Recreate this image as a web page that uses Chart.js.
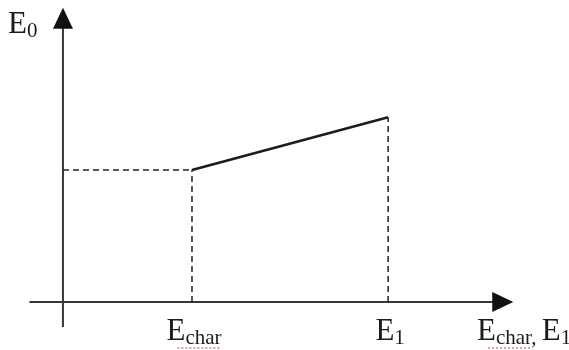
<!DOCTYPE html>
<html>
<head>
<meta charset="utf-8">
<script src="https://cdn.jsdelivr.net/npm/chart.js@4"></script>
<style>
html, body { margin: 0; padding: 0; background: #fff; }
</style>
</head>
<body>
<canvas id="chart" width="569" height="350"></canvas>
<script>
// values (origin = where the axes cross)
const eValues = [1, 2.52];        // E_char, E_1 along the x axis
const e0Values = [1, 1.4];        // E_0 at those two points
const tickMain = ["E", "E"];
const tickSub = ["char", "1"];
const yTitle = [["E", false], ["0", true]];
const xTitle = [["E", false], ["char, ", true], ["E", false], ["1", true]];

const ink = "#1c1c1c";
const bigFont = "31px 'Liberation Serif', 'Times New Roman', serif";
const subFont = "21px 'Liberation Serif', 'Times New Roman', serif";

function pt(x, y) { return { x: x, y: y }; }

// draws text with subscript parts, returns width
function richText(ctx, parts, x, y, align, squiggle) {
  let w = 0;
  parts.forEach(p => {
    ctx.font = p[1] ? subFont : bigFont;
    w += ctx.measureText(p[0]).width;
  });
  let cx = align === "center" ? x - w / 2 : x;
  ctx.textBaseline = "alphabetic";
  ctx.textAlign = "left";
  parts.forEach(p => {
    ctx.font = p[1] ? subFont : bigFont;
    const pw = ctx.measureText(p[0]).width;
    ctx.fillStyle = ink;
    ctx.fillText(p[0], cx, y + (p[1] ? 4 : 0));
    if (p[1] && squiggle && /[a-z]/.test(p[0])) {
      const tw = ctx.measureText(p[0].replace(/[, ]+$/, "")).width;
      ctx.save();
      ctx.strokeStyle = "#e03030";
      ctx.lineWidth = 1;
      ctx.setLineDash([2, 2]);
      ctx.beginPath();
      ctx.moveTo(cx - 8, y + 8);
      ctx.lineTo(cx + tw, y + 8);
      ctx.stroke();
      ctx.restore();
    }
    cx += pw;
  });
  return w;
}

const axesPlugin = {
  id: "axes",
  beforeDatasetsDraw(chart) {
    const ctx = chart.ctx;
    const xs = chart.scales.x, ys = chart.scales.y;
    const ox = xs.getPixelForValue(0), oy = ys.getPixelForValue(0);
    const xEnd = xs.getPixelForValue(3.49), yEnd = ys.getPixelForValue(2.23);
    ctx.save();
    ctx.strokeStyle = "#383838";
    ctx.fillStyle = "#111";
    ctx.lineWidth = 2;
    ctx.beginPath();
    ctx.moveTo(xs.getPixelForValue(-0.26), oy);
    ctx.lineTo(xEnd - 18, oy);
    ctx.moveTo(ox, ys.getPixelForValue(-0.19));
    ctx.lineTo(ox, yEnd + 18);
    ctx.stroke();
    // arrow heads
    ctx.beginPath();
    ctx.moveTo(xEnd, oy);
    ctx.lineTo(xEnd - 21, oy - 10);
    ctx.lineTo(xEnd - 21, oy + 10);
    ctx.closePath();
    ctx.fill();
    ctx.beginPath();
    ctx.moveTo(ox, yEnd);
    ctx.lineTo(ox - 10, yEnd + 21);
    ctx.lineTo(ox + 10, yEnd + 21);
    ctx.closePath();
    ctx.fill();
    ctx.restore();
  },
  afterDraw(chart) {
    const ctx = chart.ctx;
    const xs = chart.scales.x;
    ctx.save();
    eValues.forEach((v, i) => {
      richText(ctx, [[tickMain[i], false], [tickSub[i], true]],
        xs.getPixelForValue(v) + 2, 340, "center", true);
    });
    richText(ctx, yTitle, 8, 33, "left", false);
    richText(ctx, xTitle, 477, 340, "left", true);
    ctx.restore();
  }
};

const dashed = {
  borderColor: "#222", borderWidth: 1.5, borderDash: [6, 4],
  pointRadius: 0, showLine: true, fill: false
};

new Chart(document.getElementById("chart"), {
  type: "scatter",
  data: {
    datasets: [
      Object.assign({ data: [pt(0, e0Values[0]), pt(eValues[0], e0Values[0])] }, dashed),
      Object.assign({ data: [pt(eValues[0], 0), pt(eValues[0], e0Values[0])] }, dashed),
      Object.assign({ data: [pt(eValues[1], 0), pt(eValues[1], e0Values[1])] }, dashed),
      {
        data: eValues.map((v, i) => pt(v, e0Values[i])),
        borderColor: ink, borderWidth: 2.6, pointRadius: 0,
        showLine: true, fill: false
      }
    ]
  },
  options: {
    responsive: false,
    animation: false,
    layout: { padding: 0 },
    plugins: { legend: { display: false }, tooltip: { enabled: false } },
    scales: {
      x: { type: "linear", display: false, min: -0.488, max: 3.922 },
      y: { type: "linear", display: false, min: -0.364, max: 2.288 }
    }
  },
  plugins: [axesPlugin]
});
</script>
</body>
</html>
